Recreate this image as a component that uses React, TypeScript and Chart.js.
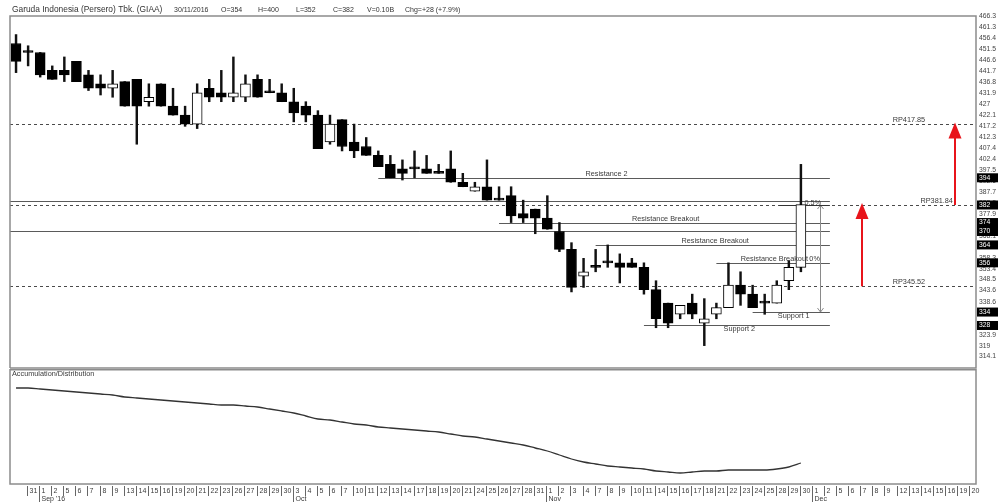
import React, { useEffect, useRef } from 'react';
import { Chart, registerables } from 'chart.js';

Chart.register(...registerables);

const FONT = '"Liberation Sans", Arial, Helvetica, sans-serif';

// ---------- data ----------
const dateLabels = [
  '30', '31',
  '1', '2', '5', '6', '7', '8', '9', '13', '14', '15', '16', '19', '20', '21', '22', '23', '26', '27', '28', '29', '30',
  '3', '4', '5', '6', '7', '10', '11', '12', '13', '14', '17', '18', '19', '20', '21', '24', '25', '26', '27', '28', '31',
  '1', '2', '3', '4', '7', '8', '9', '10', '11', '14', '15', '16', '17', '18', '21', '22', '23', '24', '25', '28', '29', '30',
  '1', '2', '5', '6', '7', '8', '9', '12', '13', '14', '15', '16', '19', '20',
];
const monthStartIndex = [2, 23, 44, 66];
const monthNames = ["Sep '16", 'Oct', 'Nov', 'Dec'];

const opens = [
  454, 450, 450, 442, 442, 446, 440, 436, 434, 437, 438, 428, 436, 426, 422, 418, 434, 432, 430, 430,
  438, 432, 432, 428, 426, 422, 410, 420, 410, 408, 404, 400, 398, 398, 398, 396, 398, 392, 388, 390,
  384, 386, 378, 380, 376, 370, 362, 350, 354, 356, 356, 356, 354, 344, 338, 333, 338, 329, 333, 336,
  346, 342, 338, 338, 348, 354,
];
const highs = [
  458, 453, 450, 444, 448, 446, 442, 440, 442, 437, 438, 436, 436, 434, 426, 436, 438, 442, 448, 440,
  440, 438, 436, 434, 428, 424, 422, 420, 418, 412, 406, 404, 402, 406, 404, 400, 406, 396, 392, 402,
  390, 390, 384, 380, 386, 374, 365, 358, 362, 364, 360, 358, 356, 348, 338, 337, 342, 340, 338, 356,
  352, 346, 342, 348, 357, 400,
];
const lows = [
  441, 444, 439, 438, 437, 437, 433, 431, 430, 426, 409, 426, 426, 422, 417, 416, 428, 428, 428, 428,
  430, 432, 428, 419, 419, 407, 409, 406, 403, 404, 399, 394, 393, 394, 396, 396, 392, 390, 388, 384,
  384, 374, 374, 369, 371, 361, 343, 345, 352, 354, 347, 354, 342, 327, 327, 331, 331, 319, 331, 336,
  337, 336, 333, 338, 344, 352,
];
const closes = [
  446, 450, 440, 438, 440, 437, 434, 434, 436, 426, 426, 430, 426, 422, 418, 432, 430, 430, 432, 436,
  430, 432, 428, 423, 422, 407, 418, 408, 406, 404, 399, 394, 396, 398, 396, 396, 392, 390, 390, 384,
  384, 377, 376, 376, 371, 362, 345, 352, 354, 356, 354, 354, 344, 331, 329, 337, 333, 331, 336, 346,
  342, 336, 338, 346, 354, 382,
];
const adLine = [
  96, 96, 95, 94, 93, 92, 91, 90, 89, 87, 86, 85, 84, 83, 82, 81, 80, 79, 79, 78,
  77, 75, 73, 71, 68, 65, 64, 62, 60, 59, 57, 56, 55, 54, 53, 52, 50, 48, 47, 45,
  43, 41, 39, 36, 33, 29, 25, 22, 20, 18, 17, 16, 15, 13, 12, 11, 12, 13, 13, 14,
  14, 14, 14, 15, 17, 21,
];

const priceTickLabels = [
  '466.3', '461.3', '456.4', '451.5', '446.6', '441.7', '436.8', '431.9', '427', '422.1', '417.2',
  '412.3', '407.4', '402.4', '397.5', '392.6', '387.7', '382.8', '377.9', '373', '368.1', '363.2',
  '358.3', '353.4', '348.5', '343.6', '338.6', '333.7', '328.8', '323.9', '319', '314.1',
];
const markedPrices = [394, 381.84, 374, 370, 364, 356, 334, 328];
const markedPriceLabels = ['394', '382', '374', '370', '364', '356', '334', '328'];

const levelPrices = [383.5, 370, 394, 374, 364, 356, 334, 328];
const levelStartIndex = [-0.5, -0.5, 30, 40, 48, 58, 61, 52];
const levelNames = ['', '', 'Resistance 2', 'Resistance Breakout', 'Resistance Breakout', 'Resistance Breakout', 'Support 1', 'Support 2'];

const targetPrices = [417.85, 381.84, 345.52];
const targetNames = ['RP417.85', 'RP381.84', 'RP345.52'];

const headerTexts = ['Garuda Indonesia (Persero) Tbk. (GIAA)', '30/11/2016', 'O=354', 'H=400', 'L=352', 'C=382', 'V=0.10B', 'Chg=+28 (+7.9%)'];

// ---------- layout (styles / positions) ----------
const HEADER_X = [12, 174, 221, 258, 296, 333, 367, 405];
const LEVEL_END = 67.4;
const LEVEL_LABEL_AT = [0, 0, 48.9, 53.8, 57.9, 62.8, 64.4, 59.9];
const LEVEL_LABEL_DY = [0, 0, -4, -4, -4, -4, 3.5, 3.5];
const TARGET_LABEL_AT = [72.6, 74.9, 72.6];
const ARROW_AT = [70.06, 77.76];
const FIB_AT = 66.6;
const FRAME = '#8c8c8c';
const TEXT = '#3a3a3a';

const priceAnnotations = {
  id: 'priceAnnotations',
  beforeDatasetsDraw(chart: any) {
    const { ctx, chartArea: a } = chart;
    const x = chart.scales.x;
    const y = chart.scales.y;
    ctx.save();
    ctx.lineWidth = 1;
    ctx.strokeStyle = '#4a4a4a';
    ctx.setLineDash([3, 3]);
    targetPrices.forEach((p) => {
      const yy = Math.round(y.getPixelForValue(p)) + 0.5;
      ctx.beginPath();
      ctx.moveTo(a.left, yy);
      ctx.lineTo(a.right, yy);
      ctx.stroke();
    });
    ctx.setLineDash([]);
    ctx.strokeStyle = '#5a5a5a';
    levelPrices.forEach((p, k) => {
      const yy = Math.round(y.getPixelForValue(p)) + 0.5;
      ctx.beginPath();
      ctx.moveTo(x.getPixelForValue(levelStartIndex[k]), yy);
      ctx.lineTo(x.getPixelForValue(LEVEL_END), yy);
      ctx.stroke();
    });
    // fib measurement
    const fx = Math.round(x.getPixelForValue(FIB_AT)) + 0.5;
    const fTop = y.getPixelForValue(targetPrices[1]);
    const fBot = y.getPixelForValue(levelPrices[6]);
    ctx.strokeStyle = '#8a8a8a';
    ctx.beginPath();
    ctx.moveTo(fx, fTop);
    ctx.lineTo(fx, fBot);
    ctx.moveTo(fx - 3, fTop + 4);
    ctx.lineTo(fx, fTop);
    ctx.lineTo(fx + 3, fTop + 4);
    ctx.moveTo(fx - 3, fBot - 4);
    ctx.lineTo(fx, fBot);
    ctx.lineTo(fx + 3, fBot - 4);
    ctx.stroke();
    ctx.strokeStyle = '#333';
    const sy = Math.round(fTop) + 0.5;
    ctx.beginPath();
    ctx.moveTo(x.getPixelForValue(63.2), sy);
    ctx.lineTo(x.getPixelForValue(LEVEL_END), sy);
    ctx.stroke();
    ctx.restore();
  },
  afterDraw(chart: any) {
    const { ctx, chartArea: a } = chart;
    const x = chart.scales.x;
    const y = chart.scales.y;
    ctx.save();
    // frame
    ctx.strokeStyle = FRAME;
    ctx.lineWidth = 1.5;
    ctx.beginPath();
    ctx.moveTo(a.left, a.bottom);
    ctx.lineTo(a.left, a.top);
    ctx.lineTo(a.right, a.top);
    ctx.lineTo(a.right, a.bottom);
    ctx.lineTo(a.left, a.bottom);
    ctx.stroke();

    // header
    ctx.fillStyle = '#333';
    ctx.textBaseline = 'middle';
    ctx.textAlign = 'left';
    headerTexts.forEach((t, i) => {
      ctx.font = (i === 0 ? '8.4px ' : '7px ') + FONT;
      ctx.fillText(t, HEADER_X[i], 10);
    });

    // level labels
    ctx.font = '7.3px ' + FONT;
    ctx.fillStyle = TEXT;
    ctx.textAlign = 'center';
    levelNames.forEach((n, k) => {
      if (!n) return;
      ctx.fillText(n, x.getPixelForValue(LEVEL_LABEL_AT[k]), y.getPixelForValue(levelPrices[k]) + LEVEL_LABEL_DY[k]);
    });
    ctx.textAlign = 'left';
    ctx.fillText('0.5%', x.getPixelForValue(65.3), y.getPixelForValue(targetPrices[1]) - 2.5);
    ctx.fillText('0%', x.getPixelForValue(65.7), y.getPixelForValue(levelPrices[5]) - 3.5);
    targetNames.forEach((n, k) => {
      ctx.fillText(n, x.getPixelForValue(TARGET_LABEL_AT[k]), y.getPixelForValue(targetPrices[k]) - 4.5);
    });

    // red arrows
    ctx.strokeStyle = '#e8141b';
    ctx.fillStyle = '#e8141b';
    ARROW_AT.forEach((ai, k) => {
      const ax = x.getPixelForValue(ai);
      const yFrom = y.getPixelForValue(targetPrices[2 - k]);
      const yTip = y.getPixelForValue(targetPrices[1 - k]) - 2;
      ctx.lineWidth = 2;
      ctx.beginPath();
      ctx.moveTo(ax, yFrom);
      ctx.lineTo(ax, yTip + 14);
      ctx.stroke();
      ctx.beginPath();
      ctx.moveTo(ax, yTip);
      ctx.lineTo(ax - 6.5, yTip + 16);
      ctx.lineTo(ax + 6.5, yTip + 16);
      ctx.closePath();
      ctx.fill();
    });

    // highlighted price boxes on axis
    ctx.font = '6.8px ' + FONT;
    ctx.textAlign = 'left';
    markedPrices.forEach((p, k) => {
      const yy = y.getPixelForValue(p);
      ctx.fillStyle = '#000';
      ctx.fillRect(a.right + 1, yy - 4.5, 21, 9);
      ctx.fillStyle = '#fff';
      ctx.fillText(markedPriceLabels[k], a.right + 3, yy);
    });
    ctx.restore();
  },
};

const lowerPanel = {
  id: 'lowerPanel',
  afterDraw(chart: any) {
    const { ctx, chartArea: a } = chart;
    const x = chart.scales.x;
    ctx.save();
    ctx.strokeStyle = FRAME;
    ctx.lineWidth = 1.5;
    ctx.strokeRect(a.left, a.top + 0.75, a.right - a.left, a.bottom - a.top - 0.75);
    ctx.fillStyle = TEXT;
    ctx.font = '7.3px ' + FONT;
    ctx.textBaseline = 'middle';
    ctx.textAlign = 'left';
    ctx.fillText('Accumulation/Distribution', a.left + 2, a.top + 5);

    // date axis
    ctx.font = '7px ' + FONT;
    ctx.strokeStyle = '#666';
    ctx.lineWidth = 1;
    for (let i = 1; i < dateLabels.length; i++) {
      const xx = Math.round(x.getPixelForValue(i)) - 0.5;
      const m = monthStartIndex.indexOf(i);
      ctx.beginPath();
      ctx.moveTo(xx, a.bottom + 2);
      ctx.lineTo(xx, a.bottom + (m >= 0 ? 18 : 12));
      ctx.stroke();
      ctx.fillText(dateLabels[i], xx + 2, a.bottom + 7.5);
      if (m >= 0) ctx.fillText(monthNames[m], xx + 2, a.bottom + 15);
    }
    ctx.restore();
  },
};

export default function App() {
  const topRef = useRef<HTMLCanvasElement>(null);
  const botRef = useRef<HTMLCanvasElement>(null);

  useEffect(() => {
    const wickData = lows.map((l, i) => [l, highs[i]]);
    const bodyData = opens.map((o, i) => [Math.min(o, closes[i]), Math.max(o, closes[i])]);
    const bodyColors = opens.map((o, i) => (closes[i] > o ? '#ffffff' : '#000000'));

    const c1 = new Chart(topRef.current as HTMLCanvasElement, {
      type: 'bar',
      data: {
        labels: dateLabels,
        datasets: [
          {
            label: 'High-Low',
            data: wickData as any,
            backgroundColor: '#111',
            borderWidth: 0,
            barThickness: 1.8,
            grouped: false,
            order: 2,
          } as any,
          {
            label: 'GIAA',
            data: bodyData as any,
            backgroundColor: bodyColors,
            borderColor: '#000',
            borderWidth: 1,
            borderSkipped: false,
            barThickness: 10,
            minBarLength: 2,
            grouped: false,
            order: 1,
          } as any,
        ],
      },
      options: {
        responsive: false,
        animation: false,
        layout: { padding: { left: 10, top: 16, right: 0, bottom: 1 } },
        plugins: { legend: { display: false }, tooltip: { enabled: false }, title: { display: false } },
        scales: {
          x: { display: false, offset: true, grid: { display: false } },
          y: {
            position: 'right',
            min: 309,
            max: 466.3,
            grid: { display: false, drawTicks: false },
            border: { display: false },
            afterBuildTicks: (s: any) => {
              s.ticks = priceTickLabels.map((t) => ({ value: parseFloat(t) }));
            },
            afterFit: (s: any) => {
              s.width = 23;
              s.paddingTop = 0;
              s.paddingBottom = 0;
            },
            ticks: {
              autoSkip: false,
              padding: 3,
              color: '#444',
              font: { family: FONT, size: 6.8 },
              callback: (_v: any, i: number) => priceTickLabels[i],
            },
          },
        },
      } as any,
      plugins: [priceAnnotations],
    });

    const c2 = new Chart(botRef.current as HTMLCanvasElement, {
      type: 'line',
      data: {
        labels: dateLabels,
        datasets: [
          {
            label: 'Accumulation/Distribution',
            data: adLine,
            borderColor: '#333',
            borderWidth: 1.3,
            pointRadius: 0,
            cubicInterpolationMode: 'monotone',
            fill: false,
          } as any,
        ],
      },
      options: {
        responsive: false,
        animation: false,
        layout: { padding: { left: 10, top: 0, right: 0, bottom: 20 } },
        plugins: { legend: { display: false }, tooltip: { enabled: false } },
        scales: {
          x: { display: false, offset: true, grid: { display: false } },
          y: {
            position: 'right',
            min: 0,
            max: 115,
            grid: { display: false, drawTicks: false },
            border: { display: false },
            ticks: { display: false },
            afterFit: (s: any) => {
              s.width = 23;
              s.paddingTop = 0;
              s.paddingBottom = 0;
            },
          },
        },
      } as any,
      plugins: [lowerPanel],
    });

    return () => {
      c1.destroy();
      c2.destroy();
    };
  }, []);

  return (
    <div style={{ position: 'absolute', left: 0, top: 0, width: 999, height: 504, background: '#fff' }}>
      <canvas ref={topRef} width={999} height={369} style={{ position: 'absolute', left: 0, top: 0 }} />
      <canvas ref={botRef} width={999} height={135} style={{ position: 'absolute', left: 0, top: 369 }} />
    </div>
  );
}
